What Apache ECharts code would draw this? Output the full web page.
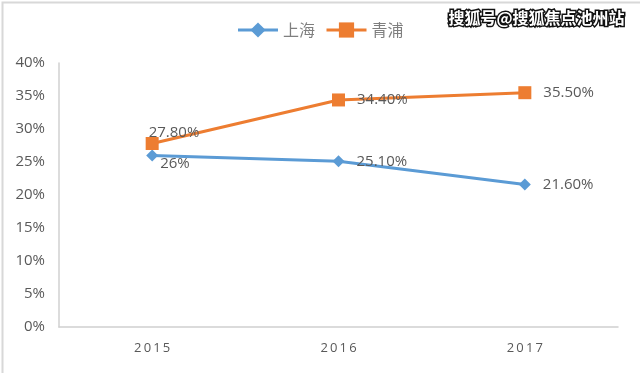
<!DOCTYPE html>
<html><head><meta charset="utf-8">
<script src="https://cdn.jsdelivr.net/npm/echarts@6/dist/echarts.min.js"></script>
<style>html,body{margin:0;padding:0;background:#fff}#c{width:640px;height:373px}</style>
</head><body><div id="c"></div>
<script>
const categories = ['2015', '2016', '2017'];
const shanghai = [26, 25.1, 21.6];
const qingpu = [27.8, 34.4, 35.5];
const shanghaiLabels = ['26%', '25.10%', '21.60%'];
const qingpuLabels = ['27.80%', '34.40%', '35.50%'];
const yTicks = { min: 0, max: 40, interval: 5 };

const chart = echarts.init(document.getElementById('c'));
const fontFam = '"Open Sans", "Noto Sans CJK SC", sans-serif';
chart.setOption({
  animation: false,
  backgroundColor: '#fff',
  grid: { left: 59, right: 22, top: 63, bottom: 46 },
  legend: {
    top: 17, left: 'center',
    itemWidth: 40, itemHeight: 19, itemGap: 10,
    lineStyle: { width: 3 },
    textStyle: { color: '#7f7f7f', fontSize: 16, fontFamily: '"Noto Sans CJK SC", sans-serif' },
    data: ['上海', '青浦']
  },
  xAxis: {
    type: 'category', data: categories, boundaryGap: true,
    axisLine: { lineStyle: { color: '#d0d0d0', width: 1.5 } },
    axisTick: { show: false },
    axisLabel: { color: '#595959', fontSize: 13, fontFamily: fontFam, margin: 15,
      formatter: v => v.split('').join('\u2009') }
  },
  yAxis: {
    type: 'value', min: yTicks.min, max: yTicks.max, interval: yTicks.interval,
    axisLine: { show: true, lineStyle: { color: '#d0d0d0', width: 1.5 } },
    axisTick: { show: false },
    splitLine: { show: false },
    axisLabel: { color: '#595959', fontSize: 15, fontFamily: fontFam, margin: 14, formatter: '{value}%' }
  },
  series: [
    {
      name: '上海', type: 'line', data: shanghai,
      symbol: 'diamond', symbolSize: 12,
      itemStyle: { color: '#5b9bd5' },
      lineStyle: { color: '#5b9bd5', width: 3 },
      label: {
        show: true, position: 'right', distance: 12,
        color: '#595959', fontSize: 15, fontFamily: fontFam,
        formatter: p => shanghaiLabels[p.dataIndex]
      },
      labelLayout: p => p.dataIndex === 0 ? { dx: -10, dy: 8 } : {}
    },
    {
      name: '青浦', type: 'line', data: qingpu,
      symbol: 'rect', symbolSize: 13,
      itemStyle: { color: '#ed7d31' },
      lineStyle: { color: '#ed7d31', width: 3 },
      label: {
        show: true, position: 'right', distance: 12,
        color: '#595959', fontSize: 15, fontFamily: fontFam,
        formatter: p => qingpuLabels[p.dataIndex]
      },
      labelLayout: p => p.dataIndex === 0 ? { dx: -22, dy: -11 } : {}
    }
  ],
  graphic: [
    { type: 'rect', left: 0, top: 0, shape: { width: 639, height: 372 },
      style: { fill: 'none', stroke: '#d8d8d8', lineWidth: 2 }, silent: true },
    { type: 'text', right: 14, top: 8,
      style: { text: '搜狐号@搜狐焦点池州站', fill: '#fff', stroke: '#111', lineWidth: 3,
        font: 'bold 16px "Noto Sans CJK SC", sans-serif' } }
  ]
});
</script></body></html>
